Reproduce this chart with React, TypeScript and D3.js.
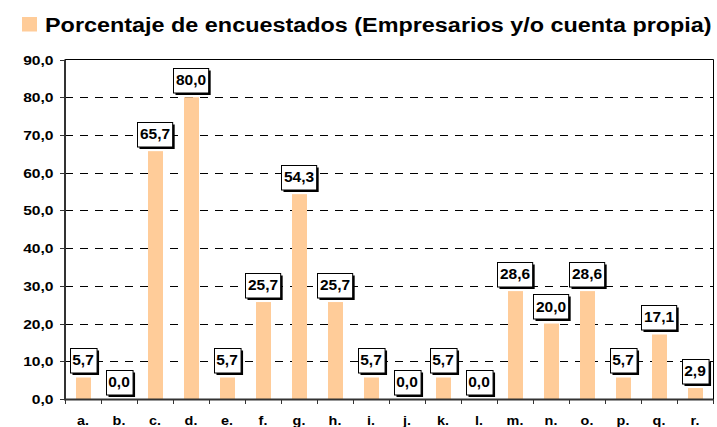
import React, { useRef, useEffect } from "react";
import * as d3 from "d3";

const titleText = "Porcentaje de encuestados (Empresarios y/o cuenta propia)";
const categories = ["a.", "b.", "c.", "d.", "e.", "f.", "g.", "h.", "i.", "j.", "k.", "l.", "m.", "n.", "o.", "p.", "q.", "r."];
const values = [5.7, 0.0, 65.7, 80.0, 5.7, 25.7, 54.3, 25.7, 5.7, 0.0, 5.7, 0.0, 28.6, 20.0, 28.6, 5.7, 17.1, 2.9];
const yTicks = [0, 10, 20, 30, 40, 50, 60, 70, 80, 90];

const fmt = (v: number) => v.toFixed(1).replace(".", ",");

const App = () => {
    const ref = useRef<SVGSVGElement>(null);

    useEffect(() => {
        const svgWidth = 717;
        const svgHeight = 427;
        const left = 65;
        const right = 713;
        const top = 59.5;
        const bottom = 399;
        const barColor = "#FFCC99";
        const font = "Arial, 'Liberation Sans', sans-serif";

        const svg = d3.select(ref.current)
            .attr("width", svgWidth)
            .attr("height", svgHeight);
        svg.selectAll("*").remove();

        const xScale = d3.scaleBand<string>()
            .domain(categories)
            .range([left, right])
            .padding(0);

        const yScale = d3.scaleLinear()
            .domain([0, 90])
            .range([bottom, top]);

        // legend + title
        svg.append("rect")
            .attr("x", 22).attr("y", 17)
            .attr("width", 15).attr("height", 14.5)
            .attr("fill", barColor);
        const title = svg.append("text")
            .attr("x", 0).attr("y", 0)
            .style("font-family", font)
            .style("font-size", "20.5px")
            .style("font-weight", "bold")
            .text(titleText);
        // stretch the title to span the same width as the original
        const titleW = (title.node() as SVGTextElement).getComputedTextLength();
        title.attr("transform", `translate(45,32) scale(${(712 - 45) / titleW},1)`);

        // grid lines (dashed), top one solid
        svg.append("g")
            .selectAll("line")
            .data(yTicks.filter(t => t > 0 && t < 90))
            .join("line")
            .attr("x1", left).attr("x2", right)
            .attr("y1", d => Math.round(yScale(d)) + 0.5)
            .attr("y2", d => Math.round(yScale(d)) + 0.5)
            .attr("stroke", "#000")
            .attr("stroke-width", 1)
            .attr("stroke-dasharray", "8 7");

        // plot border top/right
        svg.append("path")
            .attr("d", `M${left},${top}H${right + 0.5}V${bottom}`)
            .attr("fill", "none")
            .attr("stroke", "#000")
            .attr("stroke-width", 1);

        // bars
        const barW = 15;
        svg.append("g")
            .selectAll("rect")
            .data(values)
            .join("rect")
            .attr("x", (d, i) => (xScale(categories[i]) as number) + xScale.bandwidth() / 2 - barW / 2 + 0.5)
            .attr("width", barW)
            .attr("y", d => yScale(d))
            .attr("height", d => bottom - yScale(d))
            .attr("fill", barColor);

        // y axis
        const yAxis = svg.append("g");
        yAxis.append("line")
            .attr("x1", left).attr("x2", left)
            .attr("y1", top).attr("y2", bottom)
            .attr("stroke", "#333").attr("stroke-width", 2);
        yAxis.selectAll(".tk")
            .data(yTicks)
            .join("line")
            .attr("class", "tk")
            .attr("x1", left - 5).attr("x2", left)
            .attr("y1", d => Math.round(yScale(d)) + 0.5)
            .attr("y2", d => Math.round(yScale(d)) + 0.5)
            .attr("stroke", "#333").attr("stroke-width", 1);
        yAxis.selectAll(".lb")
            .data(yTicks)
            .join("text")
            .attr("class", "lb")
            .attr("transform", d => `translate(53.5,${yScale(d) + 5}) scale(1.25,1)`)
            .attr("text-anchor", "end")
            .style("font-family", font)
            .style("font-size", "12.5px")
            .style("font-weight", "bold")
            .text(d => fmt(d));

        // x axis
        const xAxis = svg.append("g");
        xAxis.append("line")
            .attr("x1", left - 1).attr("x2", right)
            .attr("y1", bottom + 0.5).attr("y2", bottom + 0.5)
            .attr("stroke", "#333").attr("stroke-width", 2);
        xAxis.selectAll(".tk")
            .data(categories.concat(["end"]))
            .join("line")
            .attr("class", "tk")
            .attr("x1", (d, i) => Math.round(left + i * xScale.step()) + 0.5)
            .attr("x2", (d, i) => Math.round(left + i * xScale.step()) + 0.5)
            .attr("y1", bottom).attr("y2", bottom + 5)
            .attr("stroke", "#333").attr("stroke-width", 1);
        xAxis.selectAll(".lb")
            .data(categories)
            .join("text")
            .attr("class", "lb")
            .attr("transform", d => `translate(${(xScale(d) as number) + xScale.bandwidth() / 2},425) scale(1.2,1)`)
            .attr("text-anchor", "middle")
            .style("font-family", font)
            .style("font-size", "12px")
            .style("font-weight", "bold")
            .text(d => d);

        // value labels in boxes with shadow
        const labels = svg.append("g");
        values.forEach((v, i) => {
            const cx = (xScale(categories[i]) as number) + xScale.bandwidth() / 2;
            const boxBottom = yScale(v) - 5;
            const boxH = 24.5;
            const g = labels.append("g");
            const shadow = g.append("rect");
            const box = g.append("rect");
            const t = g.append("text")
                .attr("x", cx)
                .attr("y", boxBottom - 7)
                .attr("text-anchor", "middle")
                .style("font-family", font)
                .style("font-size", "15.5px")
                .style("font-weight", "bold")
                .text(fmt(v));
            const tw = (t.node() as SVGTextElement).getComputedTextLength();
            const bw = tw + 5;
            const bx = Math.round(cx - bw / 2) + 0.5;
            const by = Math.round(boxBottom - boxH) + 0.5;
            shadow.attr("x", bx + 2).attr("y", by + 2)
                .attr("width", bw).attr("height", boxH)
                .attr("fill", "#000");
            box.attr("x", bx).attr("y", by)
                .attr("width", bw).attr("height", boxH)
                .attr("fill", "#fff")
                .attr("stroke", "#000")
                .attr("stroke-width", 1);
        });
    }, []);

    return (
        <div style={{ position: "absolute", left: 0, top: 0 }}>
            <svg ref={ref} style={{ display: "block" }}></svg>
        </div>
    );
};

export default App;
